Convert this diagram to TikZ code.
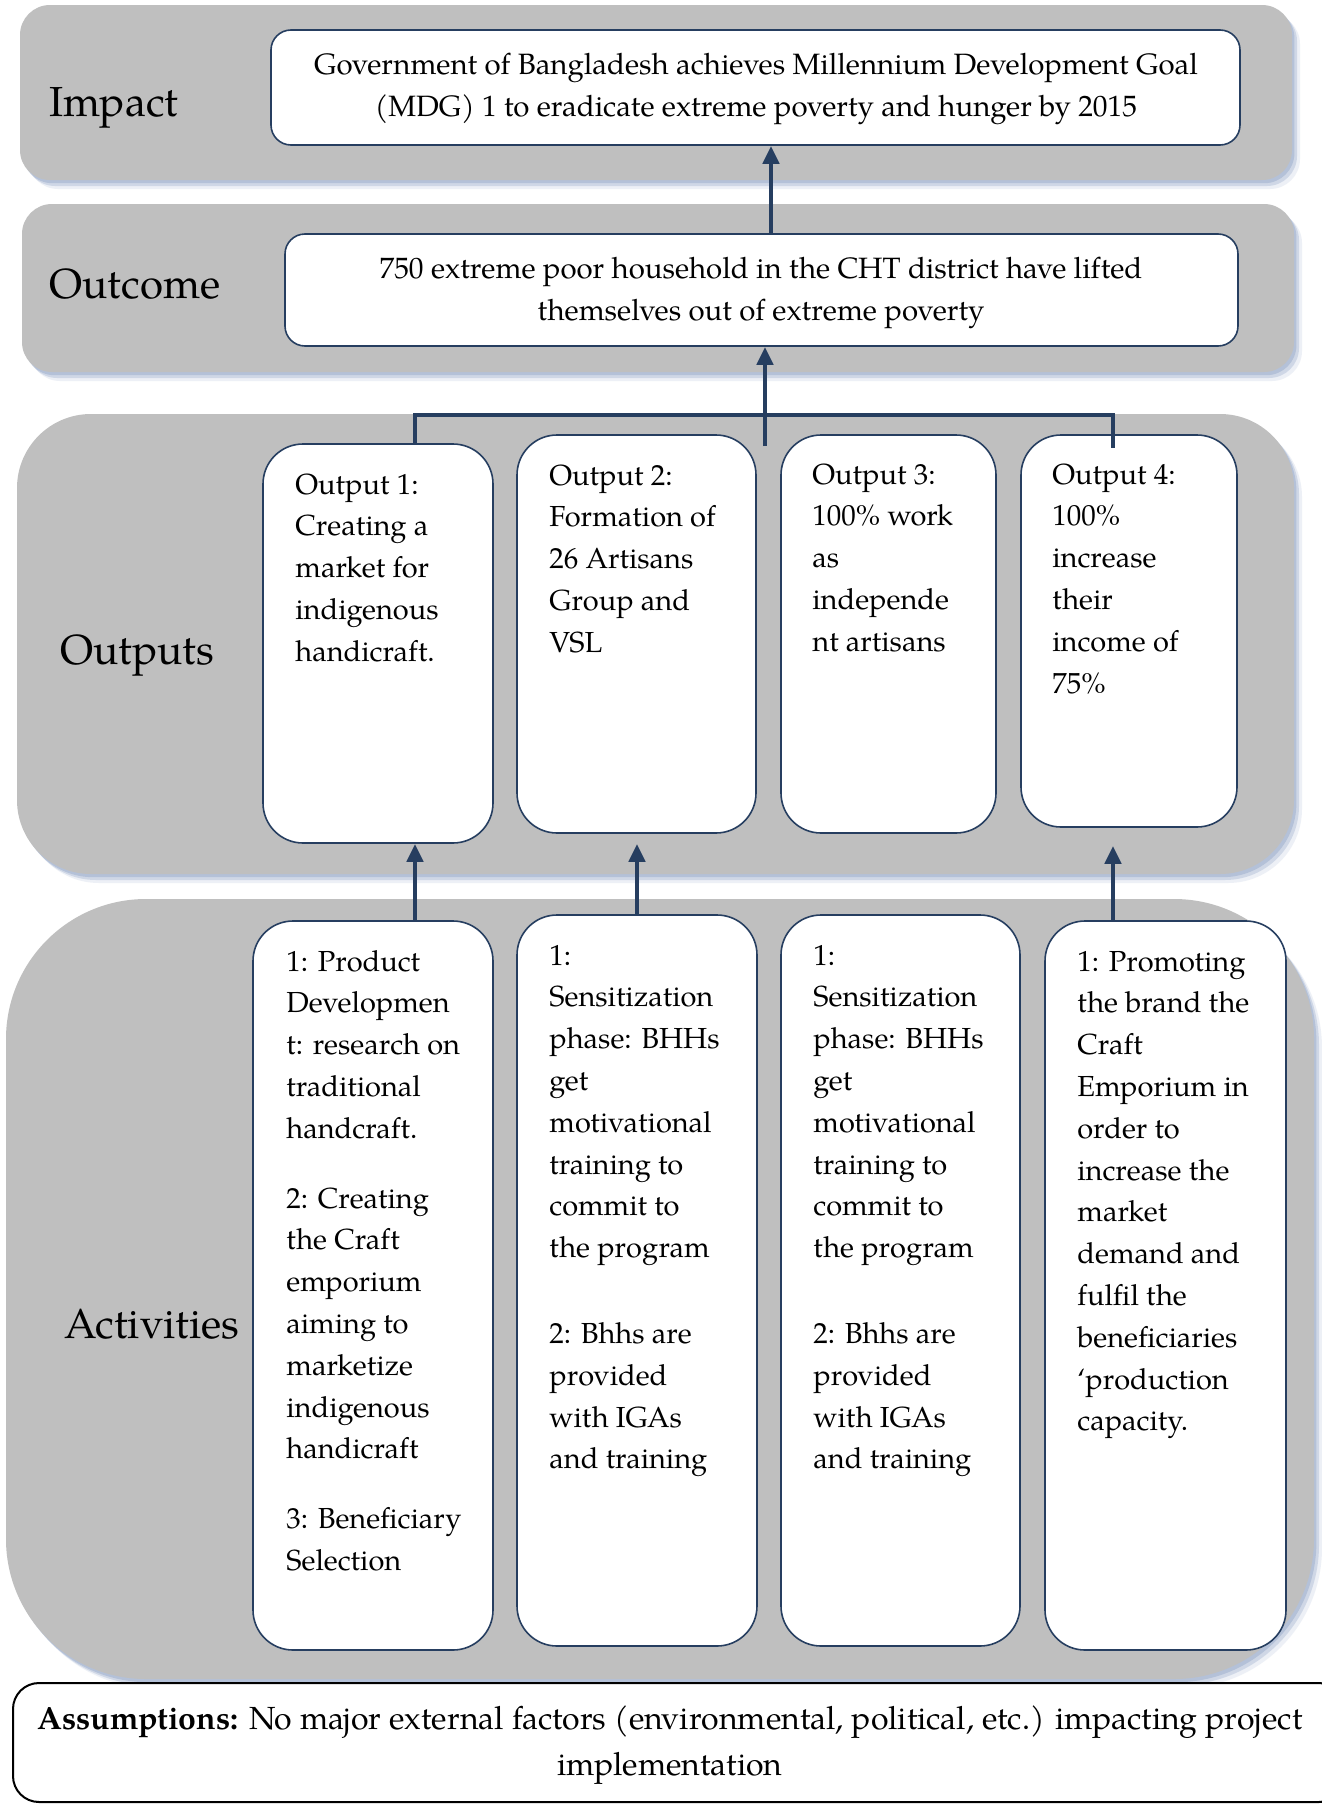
\documentclass[tikz,border=0pt]{standalone}
\usepackage{fontspec}
\setmainfont{TeX Gyre Pagella}
\usetikzlibrary{arrows.meta,fit,calc}
\definecolor{bandgray}{RGB}{191,191,191}
\definecolor{lfnavy}{RGB}{38,62,96}
\definecolor{shadowc}{RGB}{140,160,196}
\begin{document}
\begin{tikzpicture}[x=0.5pt,y=-0.5pt,
  band/.style={fill=bandgray,
    preaction={fill=shadowc, opacity=0.15, transform canvas={xshift=4pt,yshift=-4.5pt}},
    preaction={fill=shadowc, opacity=0.30, transform canvas={xshift=2.5pt,yshift=-3pt}},
    preaction={fill=shadowc, opacity=0.40, transform canvas={xshift=1.2pt,yshift=-1.6pt}}},
  mainbox/.style={draw=lfnavy, line width=0.8pt, fill=white, rounded corners=10pt, inner sep=0pt},
  outbox/.style={draw=lfnavy, line width=0.8pt, fill=white, rounded corners=20pt, inner sep=0pt},
  assumbox/.style={draw=black, line width=1pt, fill=white, rounded corners=13pt, inner sep=0pt},
  conn/.style={draw=lfnavy, line width=2.4pt},
  arr/.style={conn, -{Triangle[width=8pt,length=9pt]}},
  txt/.style={inner sep=0pt, anchor=base west, font=\fontsize{14.5}{20.9}\selectfont},
  ctxt/.style={inner sep=0pt, anchor=base, font=\fontsize{14.7}{21.2}\selectfont},
  head/.style={inner sep=0pt, anchor=base west, font=\fontsize{21}{25}\selectfont}]
\useasboundingbox (0,0) rectangle (1322,1804);
\fill[white] (0,0) rectangle (1322,1804);

% bands
\path[band, rounded corners=15pt] (20,5) rectangle (1292,180);
\path[band, rounded corners=15pt] (22,204) rectangle (1294,372);
\path[band, rounded corners=37pt] (17,414) rectangle (1294,874);
\path[band, rounded corners=70pt] (6,899) rectangle (1314,1679);

% headings
\node[head] (himpact) at (49,116) {Impact};
\node[head] (houtcome) at (49,298) {Outcome};
\node[head] (houtputs) at (60,664) {Outputs};
\node[head] (hactivities) at (64,1338) {Activities};

% impact & outcome
\node[mainbox, fit={(271,30)(1240,145)}] (impact) {};
\node[mainbox, fit={(285,234)(1238,346)}] (outcome) {};
\node[ctxt] (impactt) at (756,74) {\parbox[t]{480pt}{\centering Government of Bangladesh achieves Millennium Development Goal\\(MDG) 1 to eradicate extreme poverty and hunger by 2015}};
\node[ctxt] (outcomet) at (761,278) {\parbox[t]{480pt}{\centering 750 extreme poor household in the CHT district have lifted\\themselves out of extreme poverty}};

% outputs
\node[outbox, fit={(263,444)(493,843)}] (o1) {};
\node[outbox, fit={(517,435)(756,833)}] (o2) {};
\node[outbox, fit={(781,435)(996,833)}] (o3) {};
\node[outbox, fit={(1021,435)(1237,827)}] (o4) {};
\node[txt] (o1t) at (295,494) {\parbox[t]{200pt}{\raggedright Output 1:\\Creating a\\market for\\indigenous\\handicraft.}};
\node[txt] (o2t) at (549,485) {\parbox[t]{200pt}{\raggedright Output 2:\\Formation of\\26 Artisans\\Group and\\VSL}};
\node[txt] (o3t) at (812,484) {\parbox[t]{200pt}{\raggedright Output 3:\\100\% work\\as\\independe\\nt artisans}};
\node[txt] (o4t) at (1052,484) {\parbox[t]{200pt}{\raggedright Output 4:\\100\%\\increase\\their\\income of\\75\%}};

% activities
\node[outbox, fit={(253,921)(493,1650)}] (a1) {};
\node[outbox, fit={(517,915)(757,1646)}] (a2) {};
\node[outbox, fit={(781,915)(1020,1646)}] (a3) {};
\node[outbox, fit={(1045,921)(1286,1650)}] (a4) {};
\node[txt] (a1t) at (286,971) {\parbox[t]{200pt}{\raggedright 1: Product\\Developmen\\t: research on\\traditional\\handcraft.\\[14pt]2: Creating\\the Craft\\emporium\\aiming to\\marketize\\indigenous\\handicraft\\[14pt]3: Beneficiary\\Selection}};
\node[txt] (a2t) at (549,965) {\parbox[t]{200pt}{\raggedright 1:\\Sensitization\\phase: BHHs\\get\\motivational\\training to\\commit to\\the program\\[22pt]2: Bhhs are\\provided\\with IGAs\\and training}};
\node[txt] (a3t) at (813,965) {\parbox[t]{200pt}{\raggedright 1:\\Sensitization\\phase: BHHs\\get\\motivational\\training to\\commit to\\the program\\[22pt]2: Bhhs are\\provided\\with IGAs\\and training}};
\node[txt] (a4t) at (1077,971) {\parbox[t]{200pt}{\raggedright 1: Promoting\\the brand the\\Craft\\Emporium in\\order to\\increase the\\market\\demand and\\fulfil the\\beneficiaries\\‘production\\capacity.}};

% assumptions
\begin{scope}
\clip (0,0) rectangle (1322,1804);
\node[assumbox, fit={(13,1683)(1345,1802)}] (assum) {};
\end{scope}
\node[ctxt, font=\fontsize{16}{23}\selectfont] (assumt) at (670,1729) {\parbox[t]{650pt}{\centering \textbf{Assumptions:} No major external factors (environmental, political, etc.) impacting project\\implementation}};

% connectors
\coordinate (cimp) at (771,0);
\coordinate (cl) at (415,0);
\coordinate (cr) at (1113,0);
\coordinate (ca2) at (637,0);
\coordinate (cy) at (0,415);
\coordinate (cmid) at (765,446);
\coordinate (crend) at (1113,448);
\draw[arr] (outcome.north -| cimp) -- (impact.south -| cimp);
\draw[conn] (o1.north -| cl) -- (cl |- cy) -- (cr |- cy) -- (crend);
\draw[arr] (cmid) -- (outcome.south -| cmid);
\draw[arr] (a1.north -| cl) -- (o1.south -| cl);
\draw[arr, shorten >=5pt] (a2.north -| ca2) -- (o2.south -| ca2);
\draw[arr, shorten >=9pt] (a4.north -| cr) -- (o4.south -| cr);
\end{tikzpicture}
\end{document}
